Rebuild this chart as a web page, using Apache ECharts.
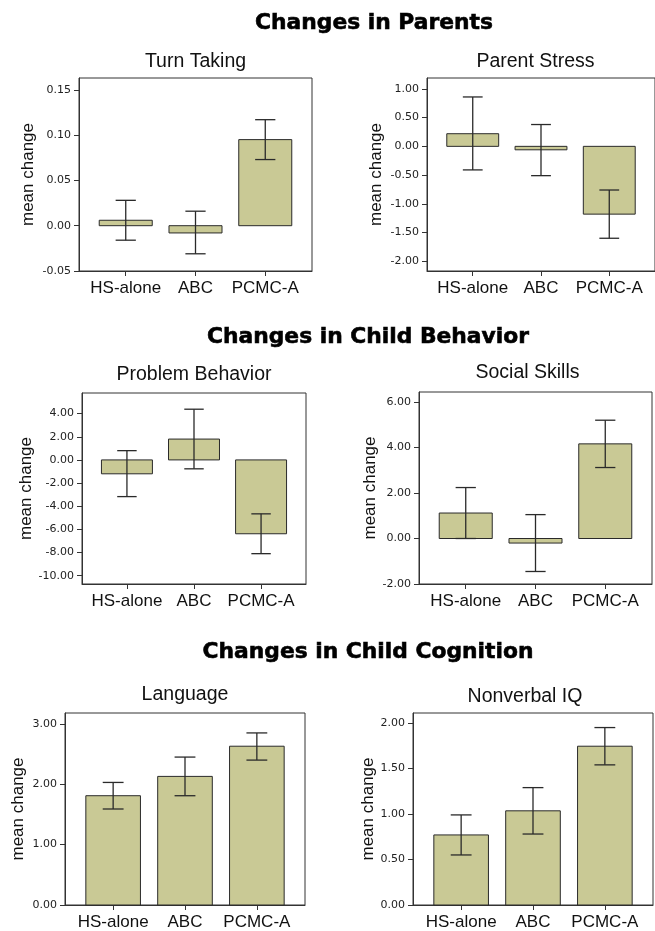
<!DOCTYPE html>
<html>
<head>
<meta charset="utf-8">
<script src="https://cdn.jsdelivr.net/npm/echarts/dist/echarts.min.js"></script>
<style>
html,body{margin:0;padding:0;background:#fff;}
#main{width:655px;height:931px;}
</style>
</head>
<body>
<div id="main"></div>
<script>
// ---- data ----
var categories = ['HS-alone', 'ABC', 'PCMC-A'];

var turnTakingMean = [0.006, -0.008, 0.095];
var turnTakingLow  = [-0.016, -0.031, 0.073];
var turnTakingHigh = [0.028, 0.016, 0.117];
var turnTakingTicks = [-0.05, 0, 0.05, 0.10, 0.15];

var parentStressMean = [0.22, -0.06, -1.18];
var parentStressLow  = [-0.41, -0.51, -1.60];
var parentStressHigh = [0.86, 0.38, -0.76];
var parentStressTicks = [-2, -1.5, -1, -0.5, 0, 0.5, 1];

var problemMean = [-1.20, 1.80, -6.38];
var problemLow  = [-3.17, -0.77, -8.10];
var problemHigh = [0.80, 4.38, -4.66];
var problemTicks = [-10, -8, -6, -4, -2, 0, 2, 4];

var socialMean = [1.12, -0.20, 4.16];
var socialLow  = [0.00, -1.45, 3.12];
var socialHigh = [2.24, 1.05, 5.20];
var socialTicks = [-2, 0, 2, 4, 6];

var languageMean = [1.81, 2.13, 2.63];
var languageLow  = [1.59, 1.81, 2.40];
var languageHigh = [2.03, 2.45, 2.85];
var languageTicks = [0, 1, 2, 3];

var nonverbalMean = [0.77, 1.035, 1.745];
var nonverbalLow  = [0.55, 0.78, 1.54];
var nonverbalHigh = [0.99, 1.29, 1.95];
var nonverbalTicks = [0, 0.5, 1, 1.5, 2];

var sectionTitles = ['Changes in Parents', 'Changes in Child Behavior', 'Changes in Child Cognition'];
var panelTitles = ['Turn Taking', 'Parent Stress', 'Problem Behavior', 'Social Skills', 'Language', 'Nonverbal IQ'];
var yName = 'mean change';

// ---- layout ----
var panels = [
  {mean: turnTakingMean, low: turnTakingLow, high: turnTakingHigh, ticks: turnTakingTicks, ymin: -0.05, ymax: 0.163,
   grid: {left: 79, top: 78, width: 233, height: 193}, nameGap: 42, titleY: 62},
  {mean: parentStressMean, low: parentStressLow, high: parentStressHigh, ticks: parentStressTicks, ymin: -2.17, ymax: 1.19,
   grid: {left: 427, top: 78, width: 233, height: 193}, nameGap: 42, titleY: 62},
  {mean: problemMean, low: problemLow, high: problemHigh, ticks: problemTicks, ymin: -10.72, ymax: 5.78,
   grid: {left: 82, top: 393, width: 224, height: 191}, nameGap: 45, titleY: 375},
  {mean: socialMean, low: socialLow, high: socialHigh, ticks: socialTicks, ymin: -2, ymax: 6.44,
   grid: {left: 419, top: 392, width: 233, height: 192}, nameGap: 39, titleY: 373},
  {mean: languageMean, low: languageLow, high: languageHigh, ticks: languageTicks, ymin: 0, ymax: 3.18,
   grid: {left: 65, top: 713, width: 240, height: 194}, nameGap: 38, titleY: 695},
  {mean: nonverbalMean, low: nonverbalLow, high: nonverbalHigh, ticks: nonverbalTicks, ymin: 0, ymax: 2.11,
   grid: {left: 413, top: 713, width: 240, height: 194}, nameGap: 35, titleY: 697}
];
var sectionY = [23, 337, 652];
var sectionX = [374, 368, 368];

var BAR_W = 0.76, CAP_W = 0.29;
var BAR_FILL = '#c9c995', INK = '#2a2a2a';

var grids = [], xAxes = [], yAxes = [], series = [], graphics = [];

panels.forEach(function (p, i) {
  grids.push({left: p.grid.left, top: p.grid.top, width: p.grid.width, height: p.grid.height,
    show: true, borderColor: '#333', borderWidth: 1, backgroundColor: 'transparent'});
  xAxes.push({
    type: 'value', gridIndex: i, min: -0.67, max: 2.67,
    splitLine: {show: false},
    axisLine: {show: true, onZero: false, lineStyle: {color: '#333', width: 1}},
    axisTick: {show: true, customValues: [0, 1, 2], length: 5, lineStyle: {color: '#333'}},
    axisLabel: {show: true, customValues: [0, 1, 2], margin: 9,
      formatter: function (v) { return categories[Math.round(v)]; },
      fontFamily: 'Liberation Sans, Arial, sans-serif', fontSize: 17, color: '#111'}
  });
  yAxes.push({
    type: 'value', gridIndex: i, min: p.ymin, max: p.ymax,
    name: yName, nameLocation: 'middle', nameGap: p.nameGap,
    nameTextStyle: {fontFamily: 'Liberation Sans, Arial, sans-serif', fontSize: 17, color: '#111'},
    splitLine: {show: false},
    axisLine: {show: true, onZero: false, lineStyle: {color: '#333', width: 1}},
    axisTick: {show: true, customValues: p.ticks, length: 5, lineStyle: {color: '#333'}},
    axisLabel: {show: true, customValues: p.ticks, margin: 8,
      formatter: function (v) { return (Math.abs(v) < 1e-9 ? 0 : v).toFixed(2); },
      fontFamily: 'DejaVu Sans, sans-serif', fontSize: 11, color: '#222'}
  });
  var data = p.mean.map(function (m, k) { return [k, m, p.low[k], p.high[k]]; });
  series.push({
    type: 'custom', xAxisIndex: i, yAxisIndex: i, data: data,
    encode: {x: 0, y: [1, 2, 3]},
    renderItem: function (params, api) {
      var x = api.value(0), m = api.value(1), lo = api.value(2), hi = api.value(3);
      var a = api.coord([x - BAR_W / 2, 0]);
      var b = api.coord([x + BAR_W / 2, m]);
      var c = api.coord([x, hi]);
      var d = api.coord([x, lo]);
      var half = api.size([CAP_W, 0])[0] / 2;
      return {
        type: 'group',
        children: [
          {type: 'rect', shape: {x: a[0], y: Math.min(a[1], b[1]), width: b[0] - a[0], height: Math.abs(a[1] - b[1])},
           style: {fill: BAR_FILL, stroke: INK, lineWidth: 1}},
          {type: 'line', shape: {x1: c[0], y1: c[1], x2: d[0], y2: d[1]}, style: {stroke: INK, lineWidth: 1.3}},
          {type: 'line', shape: {x1: c[0] - half, y1: c[1], x2: c[0] + half, y2: c[1]}, style: {stroke: INK, lineWidth: 1.3}},
          {type: 'line', shape: {x1: d[0] - half, y1: d[1], x2: d[0] + half, y2: d[1]}, style: {stroke: INK, lineWidth: 1.3}}
        ]
      };
    }
  });
  graphics.push({
    type: 'text', x: p.grid.left + p.grid.width / 2 - (i % 2 === 1 ? 8 : 0), y: p.titleY,
    style: {text: panelTitles[i], font: '19.5px "Liberation Sans", Arial, sans-serif', fill: '#111',
      align: 'center', verticalAlign: 'middle'}
  });
});

sectionTitles.forEach(function (t, j) {
  graphics.push({
    type: 'text', x: sectionX[j], y: sectionY[j],
    style: {text: t, font: 'bold 21.8px "DejaVu Sans", sans-serif', fill: '#000',
      stroke: '#000', lineWidth: 0.6,
      align: 'center', verticalAlign: 'middle'}
  });
});

var chart = echarts.init(document.getElementById('main'), null, {renderer: 'canvas'});
chart.setOption({
  animation: false,
  backgroundColor: '#fff',
  grid: grids,
  xAxis: xAxes,
  yAxis: yAxes,
  series: series,
  graphic: graphics
});
</script>
</body>
</html>
